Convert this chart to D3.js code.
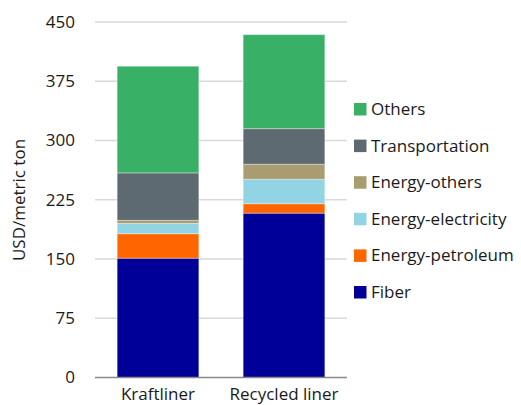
<!DOCTYPE html>
<html>
<head>
<meta charset="utf-8">
<script src="https://cdn.jsdelivr.net/npm/d3@7"></script>
<style>
  body { margin: 0; background: #fff; }
  text { font-family: "Open Sans", "Noto Sans", sans-serif; fill: #1a1a1a; }
</style>
</head>
<body>
<div id="chart"></div>
<script>
// Chart data
const categories = ["Kraftliner", "Recycled liner"]
const seriesNames = ["Fiber", "Energy-petroleum", "Energy-electricity", "Energy-others", "Transportation", "Others"]
const fiber = [151, 208]
const energyPetroleum = [31, 12]
const energyElectricity = [13, 31]
const energyOthers = [4, 19]
const transportation = [60, 45]
const others = [135, 119]
const yTicks = [0, 75, 150, 225, 300, 375, 450]
const colors = ["#000099", "#ff6600", "#92d3e4", "#a89c70", "#5e6a71", "#38b066"]

const width = 521, height = 405
const margin = {top: 22, right: 174, bottom: 27.5, left: 95}

const svg = d3.select('#chart')
    .append('svg')
        .attr('width', width)
        .attr('height', height)

const x = d3.scaleBand()
    .domain(categories)
    .range([margin.left, width - margin.right])
    .paddingInner(0.352)
    .paddingOuter(0.176)

const y = d3.scaleLinear()
    .domain([0, 450])
    .range([height - margin.bottom, margin.top])

// Build rows for the stack from the named arrays
const seriesValues = [fiber, energyPetroleum, energyElectricity, energyOthers, transportation, others]
const rows = categories.map((c, i) => {
    const row = {category: c}
    seriesNames.forEach((s, j) => { row[s] = seriesValues[j][i] })
    return row
})
const stacked = d3.stack().keys(seriesNames)(rows)

// Gridlines
svg.append('g')
    .selectAll('line')
    .data(yTicks.slice(1))
    .enter()
    .append('line')
        .attr('x1', margin.left)
        .attr('x2', width - margin.right)
        .attr('y1', d => y(d))
        .attr('y2', d => y(d))
        .attr('stroke', '#d9d9d9')
        .attr('stroke-width', 1.5)

// Y tick labels
svg.append('g')
    .selectAll('text')
    .data(yTicks)
    .enter()
    .append('text')
        .attr('x', 75)
        .attr('y', d => y(d))
        .attr('dy', '0.35em')
        .attr('text-anchor', 'end')
        .style('font-size', '17px')
        .text(d => d)

// Bars
const layers = svg.append('g')
    .selectAll('g')
    .data(stacked)
    .enter()
    .append('g')
        .attr('fill', (d, i) => colors[i])

layers.selectAll('rect')
    .data(d => d)
    .enter()
    .append('rect')
        .attr('x', d => x(d.data.category))
        .attr('width', x.bandwidth())
        .attr('y', d => y(d[1]))
        .attr('height', d => y(d[0]) - y(d[1]))
        .attr('stroke', 'rgba(255,255,255,0.35)')
        .attr('stroke-width', 1)

// Baseline
svg.append('line')
    .attr('x1', margin.left)
    .attr('x2', width - margin.right)
    .attr('y1', y(0))
    .attr('y2', y(0))
    .attr('stroke', '#898989')
    .attr('stroke-width', 1.5)

// Category labels
svg.append('g')
    .selectAll('text')
    .data(categories)
    .enter()
    .append('text')
        .attr('x', d => x(d) + x.bandwidth() / 2)
        .attr('y', 400)
        .attr('text-anchor', 'middle')
        .style('font-size', '17px')
        .text(d => d)

// Y axis title
svg.append('text')
    .attr('transform', 'translate(25,200) rotate(-90)')
    .attr('text-anchor', 'middle')
    .style('font-size', '17px')
    .text('USD/metric ton')

// Legend (top entry = last series)
const legendOrder = seriesNames.map((s, i) => ({name: s, color: colors[i]})).reverse()
const legend = svg.append('g')
    .selectAll('g')
    .data(legendOrder)
    .enter()
    .append('g')
        .attr('transform', (d, i) => 'translate(354,' + (109 + i * 36.6) + ')')

legend.append('rect')
    .attr('x', 0)
    .attr('y', -6)
    .attr('width', 12.5)
    .attr('height', 12.5)
    .attr('fill', d => d.color)

legend.append('text')
    .attr('x', 17)
    .attr('dy', '0.35em')
    .style('font-size', '17px')
    .text(d => d.name)
</script>
</body>
</html>
